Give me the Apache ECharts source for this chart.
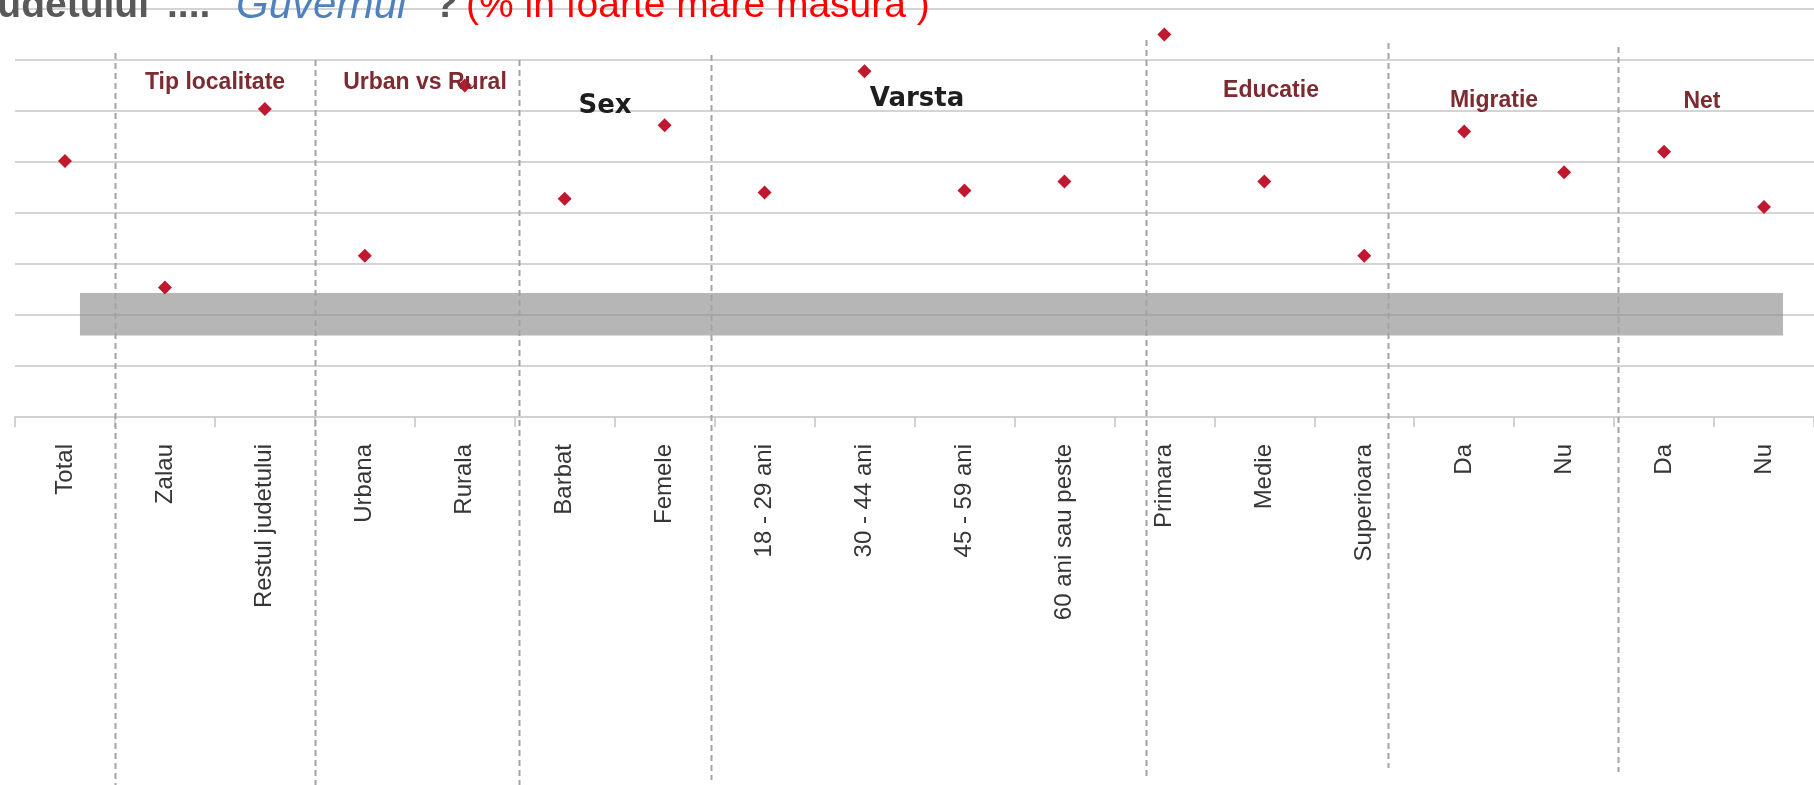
<!DOCTYPE html>
<html>
<head>
<meta charset="utf-8">
<script src="https://cdn.jsdelivr.net/npm/echarts@6/dist/echarts.min.js"></script>
<style>
  html, body { margin: 0; padding: 0; background: #ffffff; }
  #chart { width: 1814px; height: 785px; }
</style>
</head>
<body>
<div id="chart"></div>
<script>
// ---- data ----
const categories = ['Total', 'Zalau', 'Restul judetului', 'Urbana', 'Rurala', 'Barbat', 'Femele',
  '18 - 29 ani', '30 - 44 ani', '45 - 59 ani', '60 ani sau peste', 'Primara', 'Medie', 'Superioara',
  'Da', 'Nu', 'Da', 'Nu'];
const values = [25.1, 12.7, 30.2, 15.8, 32.5, 21.4, 28.6, 22.0, 33.9, 22.2, 23.1, 37.5, 23.1, 15.8, 28.0, 24.0, 26.0, 20.6];
const groupNames = ['Tip localitate', 'Urban vs Rural', 'Sex', 'Varsta', 'Educatie', 'Migratie', 'Net'];
const groupBreaks = [1, 3, 5.04, 6.96, 11.32, 13.74, 16.04];   // in category units
const bandLow = 8.0;
const bandHigh = 12.15;
const bandFrom = 0.65;
const bandTo = 17.69;
const yMin = 0, yMax = 40, yStep = 5;

// ---- layout / style ----
const FONT = 'Liberation Sans, Arial, sans-serif';
const groupLabelPos = [[215, 83], [425, 83], [605, 106], [917, 99], [1271, 91], [1494, 101], [1702, 102]];
const groupLabelStyle = [
  { font: 'bold 23px ' + FONT, fill: '#7d2a30' },
  { font: 'bold 23px ' + FONT, fill: '#7d2a30' },
  { font: 'bold 26px DejaVu Sans, sans-serif', fill: '#1e1e1e' },
  { font: 'bold 26px DejaVu Sans, sans-serif', fill: '#1e1e1e' },
  { font: 'bold 23px ' + FONT, fill: '#7d2a30' },
  { font: 'bold 23px ' + FONT, fill: '#7d2a30' },
  { font: 'bold 23px ' + FONT, fill: '#7d2a30' }
];
const breakTops = [53, 60, 60, 55, 40, 43, 47];
const breakBottoms = [785, 785, 785, 780, 778, 768, 772];

const chart = echarts.init(document.getElementById('chart'), null, { renderer: 'canvas' });

const option = {
  backgroundColor: '#ffffff',
  animation: false,
  grid: { left: 15, right: -4, top: 9, bottom: 368, containLabel: false },
  xAxis: [
    {
      type: 'category',
      data: categories,
      boundaryGap: true,
      axisLine: { show: true, lineStyle: { color: '#d0d0d0', width: 2 } },
      axisTick: { show: true, length: 10, lineStyle: { color: '#c4c4c4', width: 1.5 } },
      axisLabel: {
        interval: 0, rotate: 90, margin: 27,
        fontFamily: FONT, fontSize: 24, color: '#363636'
      },
      splitLine: { show: false }
    },
    { type: 'value', min: 0, max: categories.length, show: false }
  ],
  yAxis: {
    type: 'value', min: yMin, max: yMax, interval: yStep,
    axisLabel: { show: false },
    axisLine: { show: false },
    axisTick: { show: false },
    splitLine: { show: true, lineStyle: { color: '#d4d4d4', width: 2 } }
  },
  series: [
    {
      type: 'scatter',
      xAxisIndex: 1,
      data: [],
      silent: true,
      markArea: {
        silent: true,
        itemStyle: { color: 'rgba(140,140,140,0.63)' },
        data: [[{ xAxis: bandFrom, yAxis: bandLow }, { xAxis: bandTo, yAxis: bandHigh }]]
      },
      z: 1
    },
    {
      type: 'scatter',
      xAxisIndex: 0,
      data: values,
      symbol: 'diamond',
      symbolSize: 14,
      itemStyle: { color: '#c0182e', opacity: 1 },
      z: 5
    }
  ]
};
chart.setOption(option);

// ---- decorations positioned with the library's scales ----
const graphics = [];
groupBreaks.forEach((b, i) => {
  const x = Math.round(chart.convertToPixel({ xAxisIndex: 1 }, b)) + 0.5;
  graphics.push({
    type: 'line', z: 50, silent: true,
    shape: { x1: x, y1: breakTops[i], x2: x, y2: breakBottoms[i] },
    style: { stroke: '#a3a3a3', lineWidth: 2, lineDash: [6, 4] }
  });
});
groupNames.forEach((name, i) => {
  graphics.push({
    type: 'text', z: 60, silent: true,
    x: groupLabelPos[i][0], y: groupLabelPos[i][1],
    style: {
      text: name, font: groupLabelStyle[i].font, fill: groupLabelStyle[i].fill,
      align: 'center', verticalAlign: 'middle'
    }
  });
});
// title (clipped at the top as in the original)
const titleParts = [
  { text: 'Judetului', x: 149, align: 'right', font: 'bold 39px ' + FONT, fill: '#595959' },
  { text: '....', x: 167, align: 'left', font: 'bold 39px ' + FONT, fill: '#595959' },
  { text: 'Guvernul', x: 236, align: 'left', font: 'italic 42px ' + FONT, fill: '#4f81bd' },
  { text: '?', x: 434, align: 'left', font: 'bold 39px ' + FONT, fill: '#595959' },
  { text: '(% in foarte mare masura )', x: 466, align: 'left', font: '39px ' + FONT, fill: '#ff0000' }
];
titleParts.forEach(p => {
  graphics.push({
    type: 'text', z: 70, silent: true, x: p.x, y: 6,
    style: { text: p.text, font: p.font, fill: p.fill, align: p.align, verticalAlign: 'middle' }
  });
});
chart.setOption({ graphic: graphics });
</script>
</body>
</html>
